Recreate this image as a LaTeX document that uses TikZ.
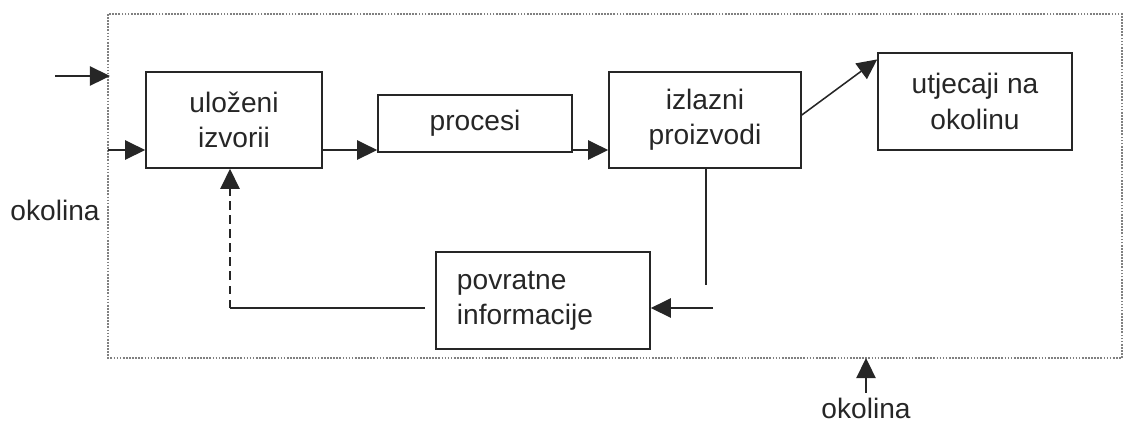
\documentclass[tikz,border=0pt]{standalone}
\usepackage{fontspec}
\setmainfont{Liberation Sans}
\usepackage{tikz}
\usetikzlibrary{positioning, arrows.meta}

\begin{document}
\begin{tikzpicture}[
  x=0.025cm, y=-0.025cm,
  font=\fontsize{20}{25}\selectfont,
  every node/.style={text=black!85},
  box/.style={draw=black!85, line width=1.1pt, align=center, inner sep=4pt},
  flow/.style={-{Triangle[length=0.5cm, width=0.48cm]}, line width=1.1pt, draw=black!85},
  plain/.style={line width=1.1pt, draw=black!85},
  frame/.style={densely dotted, line width=1.2pt, gray}
]
\useasboundingbox (0,0) rectangle (1125,424);
% --- okvir sustava ---
\draw[frame] (108,14) rectangle (1122,358);
% --- blokovi ---
\node[box, minimum width=4.4cm, minimum height=2.4cm] (ul) at (234,120) {uloženi\\izvorii};
\node[box, minimum width=4.85cm, minimum height=1.425cm] (pr) at (475,123.5) {procesi};
\node[box, minimum width=4.8cm, minimum height=2.4cm] (iz) at (705,120) {izlazni\\proizvodi};
\node[box, minimum width=4.85cm, minimum height=2.425cm] (ut) at (975,101.5) {utjecaji na\\okolinu};
\node[box, minimum width=5.35cm, minimum height=2.425cm, align=left, text width=4.3cm] (pv) at (543,300.5) {povratne\\informacije};
% --- okolina ---
\node (ok1) at (55,210) {okolina};
\node (ok2) at (866,408) {okolina};
% --- ulazi ---
\coordinate (inA) at (55,76);
\coordinate (inAe) at (110,76);
\coordinate (inB) at (108,150);
\draw[flow] (inA)--(inAe);
\draw[flow] (inB)--(inB -| ul.west);
% --- glavni tok ---
\draw[flow] ([yshift=-0.75cm]ul.east)--([yshift=-0.75cm]ul.east -| pr.west);
\draw[flow] ([yshift=-0.75cm]ul.east -| pr.east)--([yshift=-0.75cm]ul.east -| iz.west);
\draw[flow] ([yshift=0.125cm]iz.east)--([yshift=-0.18cm]ut.north west);
% --- povratna veza ---
\coordinate (fbA) at (706,285);
\coordinate (fbB) at (713,308);
\coordinate (fbC) at (425,308);
\coordinate (fbD) at (230,308);
\draw[plain] (iz.south -| fbA)--(fbA);
\draw[flow] (fbB)--(fbB -| pv.east);
\draw[plain] (fbC)--(fbD);
\draw[flow, dash pattern=on 6pt off 4pt] (fbD)--(fbD |- ul.south);
% --- utjecaj okoline ---
\coordinate (env) at (866,358);
\draw[flow] (ok2.north)--(env);
\end{tikzpicture}
\end{document}
